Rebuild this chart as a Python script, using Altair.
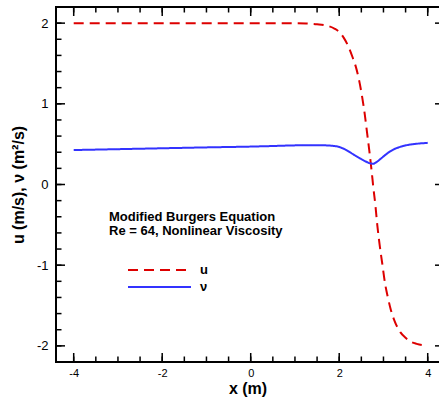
import altair as alt
import pandas as pd

# ---- data ----
u_x = [-4.0, -3.0, -2.0, -1.0, 0.0, 0.5, 1.0, 1.25, 1.5, 1.75, 1.9, 2.0, 2.1, 2.2, 2.3,
       2.37, 2.45, 2.52, 2.58, 2.63, 2.68, 2.73, 2.77, 2.82, 2.86, 2.9, 2.97, 3.04, 3.1,
       3.16, 3.25, 3.38, 3.5, 3.62, 3.75, 3.88, 4.0]
u_y = [2.0, 2.0, 2.0, 2.0, 2.0, 2.0, 1.999, 1.995, 1.987, 1.965, 1.93, 1.89, 1.82, 1.72, 1.58,
       1.47, 1.29, 1.08, 0.86, 0.64, 0.42, 0.18, -0.03, -0.27, -0.5, -0.69, -0.97, -1.24, -1.40,
       -1.54, -1.69, -1.83, -1.90, -1.95, -1.975, -1.99, -1.995]
nu_x = [-4.0, -3.0, -2.0, -1.0, 0.0, 0.5, 1.0, 1.5, 1.8, 2.0, 2.15, 2.3, 2.45, 2.6, 2.7,
        2.77, 2.85, 2.95, 3.05, 3.15, 3.25, 3.4, 3.55, 3.7, 3.85, 4.0]
nu_y = [0.427, 0.438, 0.449, 0.46, 0.47, 0.477, 0.485, 0.488, 0.482, 0.465, 0.43, 0.38, 0.33,
        0.285, 0.262, 0.258, 0.28, 0.325, 0.37, 0.41, 0.44, 0.47, 0.49, 0.502, 0.51, 0.516]

series_names = ["u", "\u03bd"]
x_major = [-4, -2, 0, 2, 4]
x_minor = [-4.0, -3.5, -3.0, -2.5, -2.0, -1.5, -1.0, -0.5, 0.0, 0.5, 1.0, 1.5, 2.0, 2.5, 3.0, 3.5, 4.0]
y_major = [-2, -1, 0, 1, 2]
y_minor = [-2.2, -2.0, -1.8, -1.6, -1.4, -1.2, -1.0, -0.8, -0.6, -0.4, -0.2, 0.0,
           0.2, 0.4, 0.6, 0.8, 1.0, 1.2, 1.4, 1.6, 1.8, 2.0, 2.2]
note_lines = ["Modified Burgers Equation", "Re = 64, Nonlinear Viscosity"]
x_title = "x (m)"
y_title = "u (m/s), \u03bd (m\u00b2/s)"

df = pd.DataFrame({
    "x": u_x + nu_x,
    "val": u_y + nu_y,
    "series": [series_names[0]] * len(u_x) + [series_names[1]] * len(nu_x),
})
xmaj_df = pd.DataFrame({"t": x_major})
xmin_df = pd.DataFrame({"t": x_minor})
ymaj_df = pd.DataFrame({"t": y_major})
ymin_df = pd.DataFrame({"t": y_minor})

W, H = 383, 355
FONT = "Liberation Sans"
MAJOR, MINOR, RIGHT = 9, 5.5, 4

xscale = alt.Scale(domain=[-4.4, 4.255], nice=False, zero=False)
yscale = alt.Scale(domain=[-2.2, 2.2], nice=False, zero=False)

lines = alt.Chart(df).mark_line(strokeWidth=2, interpolate="monotone").encode(
    x=alt.X("x:Q", scale=xscale,
            axis=alt.Axis(orient="bottom", values=x_major, ticks=False, grid=False, domain=False,
                          labelExpr="'' + datum.value", labelFontSize=11, labelPadding=5,
                          labelFont=FONT, labelColor="black",
                          title=x_title, titleFont=FONT, titleFontSize=16, titleFontWeight="bold",
                          titleColor="black", titlePadding=2)),
    y=alt.Y("val:Q", scale=yscale,
            axis=alt.Axis(orient="left", values=y_major, ticks=False, grid=False, domain=False,
                          labelExpr="'' + datum.value", labelFontSize=13, labelPadding=8,
                          labelFont=FONT, labelColor="black",
                          title=y_title, titleFont=FONT, titleFontSize=16, titleFontWeight="bold",
                          titleColor="black", titlePadding=10)),
    color=alt.Color("series:N",
                    scale=alt.Scale(domain=series_names, range=["#dd0000", "#3333ff"]),
                    legend=alt.Legend(orient="none", legendX=71, legendY=254.5, title=None,
                                      symbolType="stroke", symbolSize=3969, symbolStrokeWidth=2,
                                      clipHeight=17, rowPadding=0, padding=0,
                                      labelFont=FONT, labelFontSize=13, labelFontWeight="bold",
                                      labelColor="black", labelOffset=8)),
    strokeDash=alt.StrokeDash("series:N",
                              scale=alt.Scale(domain=series_names, range=[[10, 6], [1, 0]]),
                              legend=None),
)


def xticks(data, y0, y1):
    return alt.Chart(data).mark_rule(color="black", strokeWidth=1.5).encode(
        x=alt.X("t:Q", scale=xscale, axis=None),
        y=alt.value(y0), y2=alt.value(y1),
    )


def yticks(data, x0, x1):
    return alt.Chart(data).mark_rule(color="black", strokeWidth=1.5).encode(
        y=alt.Y("t:Q", scale=yscale, axis=None),
        x=alt.value(x0), x2=alt.value(x1),
    )


tick_layers = [
    xticks(xmin_df, H, H - MINOR), xticks(xmaj_df, H, H - MAJOR),   # bottom, inward
    xticks(xmin_df, 0, MINOR), xticks(xmaj_df, 0, MAJOR),           # top, inward
    yticks(ymin_df, 0, MINOR), yticks(ymaj_df, 0, MAJOR),           # left, inward
    yticks(ymaj_df, W, W - RIGHT),                                   # right edge
]

# plot frame (right edge lies just outside the visible page, as in the reference)
frame = alt.Chart(pd.DataFrame({"f": [0]})).mark_rect(
    fillOpacity=0, stroke="black", strokeWidth=2
).encode(x=alt.value(0), x2=alt.value(W + 7), y=alt.value(0), y2=alt.value(H))

# annotation, placed in data coordinates on the shared scales
note = alt.Chart(pd.DataFrame({"f": [0]})).mark_text(
    align="left", baseline="alphabetic", font=FONT, fontSize=13, fontWeight="bold",
    lineHeight=14.5, color="black"
).encode(
    x=alt.XDatum(-3.202, type="quantitative", scale=xscale, axis=None),
    y=alt.YDatum(-0.452, type="quantitative", scale=yscale, axis=None),
    text=alt.value(note_lines),
)

chart = alt.layer(lines, *tick_layers, frame, note).resolve_axis(
    x="independent", y="independent"
).properties(
    width=W, height=H,
    autosize=alt.AutoSizeParams(type="none"),
    padding={"left": 56, "top": 7, "right": 0, "bottom": 36},
    background="white",
).configure_view(strokeWidth=0)

chart.save("out.html", embed_options={"renderer": "svg", "actions": False})
